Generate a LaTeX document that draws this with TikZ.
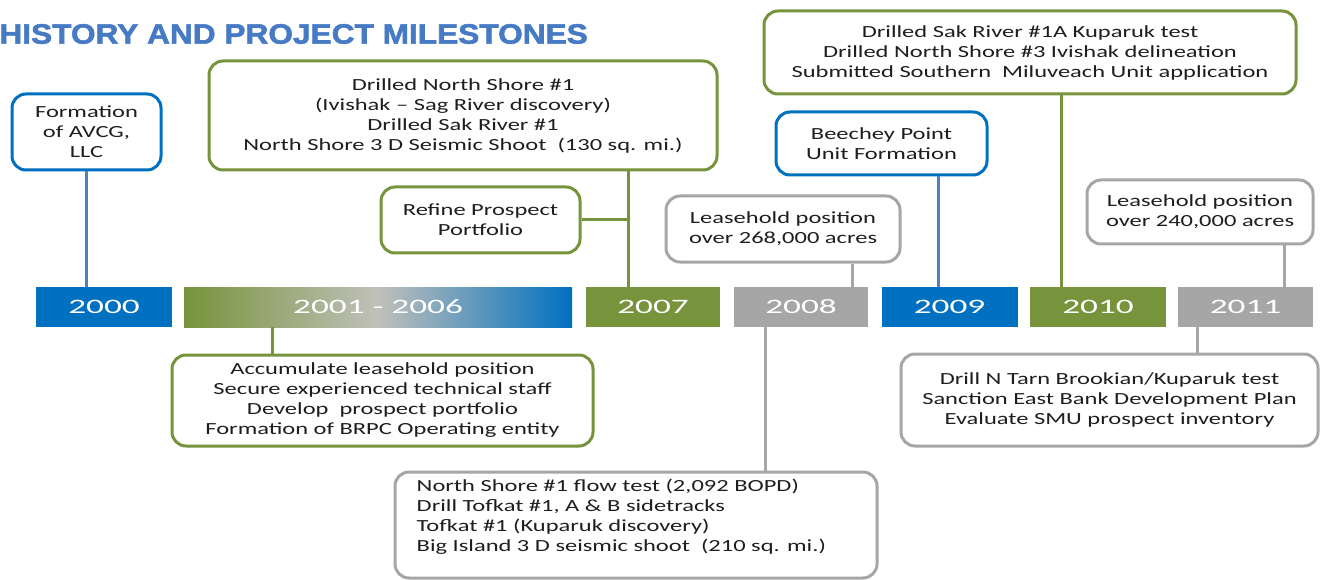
\documentclass[tikz,border=0pt]{standalone}
\usepackage{fontspec}
\setmainfont{Carlito}[FakeStretch=1.44]
\newfontfamily\yearfont{Carlito}[FakeStretch=1.72]
\newfontfamily\titlefont{Liberation Sans}[FakeStretch=1.13, FakeBold=2]
\definecolor{msblue}{RGB}{0,112,192}
\definecolor{msgreen}{RGB}{119,147,60}
\definecolor{msgray}{RGB}{166,166,166}
\definecolor{midgray}{RGB}{192,192,186}
\definecolor{linkblue}{RGB}{79,129,189}
\definecolor{titleblue}{RGB}{70,122,196}
\definecolor{boxtext}{RGB}{30,30,30}
\usetikzlibrary{positioning, calc}

\tikzset{
  milebox/.style={draw=#1, line width=3pt, rounded corners=14pt, fill=white,
    align=center, text=boxtext, font=\fontsize{17}{20}\selectfont, inner sep=0pt},
  yearbar/.style={minimum height=40pt, inner sep=0pt, text=white,
    font=\yearfont\fontsize{20.5}{24}\selectfont},
  link/.style={draw=#1, line width=3pt}
}

\begin{document}
\begin{tikzpicture}[x=1pt, y=-1pt]
  \useasboundingbox (0,0) rectangle (1320,580);

  \node[anchor=east, inner sep=0pt, text=titleblue, font=\titlefont\bfseries\fontsize{28}{30}\selectfont] (title) at (588,34) {HISTORY AND PROJECT MILESTONES};

  % Year bar
  \foreach \name/\x/\w/\col/\yr in {y2000/104/136/msblue/2000, y2007/653/134/msgreen/2007,
      y2008/801/134/msgray/2008, y2009/949.5/136/msblue/2009,
      y2010/1098/136/msgreen/2010, y2011/1245.5/135/msgray/2011} {
    \node[yearbar, fill=\col, minimum width=\w pt] (\name) at (\x,307) {\yr};
  }
  \node[yearbar, left color=msgreen, right color=msblue, middle color=midgray,
    minimum width=388pt] (y0106) at (378,307) {2001 - 2006};

  % Junctions on the bar
  \coordinate (j00) at ([xshift=-18pt]y2000.north);
  \coordinate (j07) at ([xshift=-25pt]y2007.north);
  \coordinate (j08) at ([xshift=51pt]y2008.north);
  \coordinate (j09) at ([xshift=-11.5pt]y2009.north);
  \coordinate (j10) at ([xshift=-37pt]y2010.north);
  \coordinate (j11) at ([xshift=38.5pt]y2011.north);
  \coordinate (k06) at ([xshift=-106pt]y0106.south);
  \coordinate (k08) at ([xshift=-36pt]y2008.south);
  \coordinate (k11) at ([xshift=-48.5pt]y2011.south);

  % Milestones above
  \node[milebox=msblue, minimum width=149pt, minimum height=76pt] (formation) at (86.5,132)
    {Formation\\of AVCG,\\LLC};
  \node[milebox=msgreen, minimum width=508pt, minimum height=109pt] (ns1) at (463,115.5)
    {Drilled North Shore \#1\\(Ivishak -- Sag River discovery)\\Drilled Sak River \#1\\North Shore 3 D Seismic Shoot~ (130 sq. mi.)};
  \node[milebox=msgreen, minimum width=199pt, minimum height=66pt] (refine) at (480.5,220)
    {Refine Prospect\\Portfolio};
  \node[milebox=msgray, minimum width=234pt, minimum height=66pt] (lease268) at (783,229)
    {Leasehold position\\over 268,000 acres};
  \node[milebox=msblue, minimum width=211pt, minimum height=63pt] (beechey) at (881.5,143.5)
    {Beechey Point\\Unit Formation};
  \node[milebox=msgreen, minimum width=532pt, minimum height=83pt] (drill10) at (1030,52.5)
    {Drilled Sak River \#1A Kuparuk test\\Drilled North Shore \#3 Ivishak delineation\\Submitted Southern~ Miluveach Unit application};
  \node[milebox=msgray, minimum width=226pt, minimum height=64pt] (lease240) at (1200,212)
    {Leasehold position\\over 240,000 acres};

  % Milestones below
  \node[milebox=msgreen, minimum width=421pt, minimum height=91pt] (accum) at (382.5,400.5)
    {Accumulate leasehold position\\Secure experienced technical staff\\Develop~ prospect portfolio\\Formation of BRPC Operating entity};
  \node[milebox=msgray, minimum width=482pt, minimum height=106pt] (flow) at (636,525) {};
  \node[anchor=north west, inner sep=0pt, align=flush left, text=boxtext,
    font=\fontsize{17}{20}\selectfont] (flowtext) at ([shift={(23,8)}]flow.north west)
    {North Shore \#1 flow test (2,092 BOPD)\\Drill Tofkat \#1, A \& B sidetracks\\Tofkat \#1 (Kuparuk discovery)\\Big Island 3 D seismic shoot~ (210 sq. mi.)};
  \node[milebox=msgray, minimum width=417pt, minimum height=92pt] (ntarn) at (1109.5,400)
    {Drill N Tarn Brookian/Kuparuk test\\Sanction East Bank Development Plan\\Evaluate SMU prospect inventory};

  % Connectors
  \draw[link=linkblue] (formation.south -| j00) -- (j00);
  \draw[link=msgreen] (ns1.south -| j07) -- (j07);
  \draw[link=msgreen] (refine.east) -- (refine.east -| j07);
  \draw[link=msgray] (lease268.south -| j08) -- (j08);
  \draw[link=linkblue] (beechey.south -| j09) -- (j09);
  \draw[link=msgreen] (drill10.south -| j10) -- (j10);
  \draw[link=msgray] (lease240.south -| j11) -- (j11);
  \draw[link=msgreen] (k06) -- (accum.north -| k06);
  \draw[link=msgray] (k08) -- (flow.north -| k08);
  \draw[link=msgray] (k11) -- (ntarn.north -| k11);
\end{tikzpicture}
\end{document}
